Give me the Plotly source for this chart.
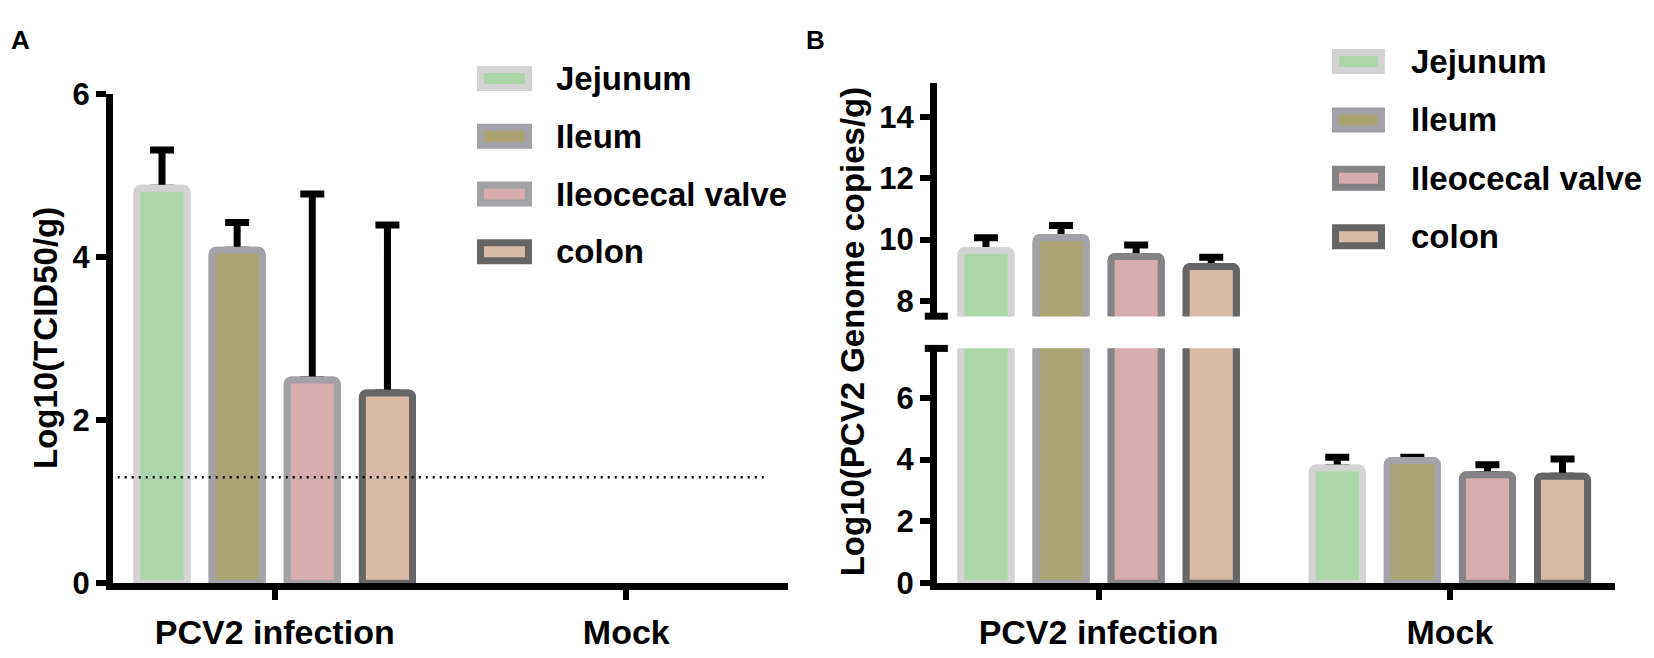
import plotly.graph_objects as go

# ---- data ----
categories = ["PCV2 infection", "Mock"]
tissues = ["Jejunum", "Ileum", "Ileocecal valve", "colon"]

# panel A: Log10(TCID50/g), only the infected group has titres
a_pcv2 = [4.84, 4.08, 2.49, 2.33]
a_pcv2_err = [0.47, 0.34, 2.28, 2.06]
a_mock = [None, None, None, None]
a_mock_err = [0, 0, 0, 0]
lod = 1.3  # detection limit (dotted line)

# panel B: Log10(PCV2 genome copies/g)
b_pcv2 = [9.64, 10.07, 9.45, 9.12]
b_pcv2_err = [0.42, 0.39, 0.37, 0.30]
b_mock = [3.73, 3.97, 3.51, 3.46]
b_mock_err = [0.35, 0.11, 0.32, 0.56]

a_ticks = [0, 2, 4, 6]
b_low_ticks = [0, 2, 4, 6]
b_high_ticks = [8, 10, 12, 14]

fills = ["#acd5a9", "#aba373", "#d5adad", "#d7bba6"]
borders_a = ["#d3d3d3", "#a2a2a8", "#a2a2a7", "#666666"]
borders_b = ["#d3d3d3", "#a2a2a8", "#848486", "#656565"]

W, H = 1654, 658
FONT = "Liberation Sans, Arial, sans-serif"
LW = 7


def px(x):
    return x / W


def py(y):
    return 1 - y / H


fig = go.Figure()


def add_bars(xa, ya, vals, errs, borders):
    # first pass carries the error bar, second pass hides its lower cap
    for i, name in enumerate(tissues):
        for with_err in (True, False):
            fig.add_trace(go.Bar(
                x=categories, y=vals[i], name=name,
                xaxis=xa, yaxis=ya, offsetgroup=str(i), showlegend=False,
                marker=dict(color=fills[i], cornerradius=4,
                            line=dict(color=borders[i], width=LW)),
                error_y=dict(type="data", symmetric=False, array=errs[i],
                             arrayminus=[0] * len(categories),
                             color="black", thickness=7, width=12,
                             visible=with_err),
                hoverinfo="skip",
            ))


a_vals = [[a_pcv2[i], a_mock[i]] for i in range(4)]
a_errs = [[a_pcv2_err[i], a_mock_err[i]] for i in range(4)]
b_vals = [[b_pcv2[i], b_mock[i]] for i in range(4)]
b_errs = [[b_pcv2_err[i], b_mock_err[i]] for i in range(4)]

add_bars("x", "y", a_vals, a_errs, borders_a)
add_bars("x2", "y2", b_vals, b_errs, borders_b)
add_bars("x2", "y3", b_vals, b_errs, borders_b)

axis_common = dict(showline=True, linecolor="black", linewidth=LW,
                   ticks="outside", ticklen=10, tickwidth=6, tickcolor="black",
                   showgrid=False, zeroline=False, fixedrange=True)
xfont = dict(family=FONT, size=34, color="black", weight="bold")
yfont = dict(family=FONT, size=31, color="black", weight="bold")

fig.update_layout(
    width=W, height=H,
    margin=dict(l=0, r=0, t=0, b=0),
    paper_bgcolor="white", plot_bgcolor="white",
    barmode="group", bargap=0.145, bargroupgap=0.333,
    xaxis=dict(domain=[px(113), px(788)], range=[-0.46, 1.46], type="category",
               anchor="y", tickfont=xfont, ticklabelstandoff=3, **axis_common),
    yaxis=dict(domain=[py(598), py(81)], range=[0, 6], tickvals=a_ticks,
               anchor="x", tickfont=yfont, **axis_common),
    xaxis2=dict(domain=[px(937), px(1615)], range=[-0.46, 1.47], type="category",
                anchor="y2", tickfont=xfont, ticklabelstandoff=3, **axis_common),
    yaxis2=dict(domain=[py(598), py(350)], range=[0, 7.6], tickvals=b_low_ticks,
                anchor="x2", tickfont=yfont, **axis_common),
    yaxis3=dict(domain=[py(316), py(70)], range=[7.5, 15.1], tickvals=b_high_ticks,
                anchor="x2", tickfont=yfont, **axis_common),
)

shapes = []
# detection limit
shapes.append(dict(type="line", xref="x domain", yref="y", x0=0.007, x1=0.967,
                   y0=lod, y1=lod, line=dict(color="black", width=2.5, dash="2px,5px")))
# axis break marks
for yref, yv in (("y3 domain", 0), ("y2 domain", 1)):
    shapes.append(dict(type="line", xref="x2 domain", yref=yref, x0=-0.018, x1=0.016,
                       y0=yv, y1=yv, line=dict(color="black", width=LW)))

annotations = []
title_font = dict(family=FONT, size=33, color="black", weight="bold")
annotations.append(dict(text="Log10(TCID50/g)", x=px(46), y=py(339), xref="paper", yref="paper",
                        xanchor="center", yanchor="middle",
                        textangle=-90, showarrow=False, font=title_font))
annotations.append(dict(text="Log10(PCV2 Genome copies/g)", x=px(852), y=py(332),
                        xref="paper", yref="paper", xanchor="center", yanchor="middle",
                        textangle=-90, showarrow=False, font=title_font))
for letter, lx in (("A", 9), ("B", 804)):
    annotations.append(dict(text=letter, x=px(lx), y=py(24), xref="paper", yref="paper",
                            xanchor="left", yanchor="middle", showarrow=False,
                            font=dict(family=FONT, size=26, color="black", weight="bold")))

# hand-drawn legends (swatch + label)
legends = [dict(x0=477, x1=532, y0=65, step=61, tx=554, borders=borders_a),
           dict(x0=1332, x1=1385, y0=47, step=61.7, tx=1409, borders=borders_b)]
for lg in legends:
    for i, name in enumerate(tissues):
        cy = lg["y0"] + lg["step"] * i
        shapes.append(dict(type="rect", xref="paper", yref="paper",
                           x0=px(lg["x0"] + LW / 2), x1=px(lg["x1"] - LW / 2),
                           y0=py(cy - 13 + LW / 2), y1=py(cy + 13 - LW / 2),
                           fillcolor=fills[i], line=dict(color=lg["borders"][i], width=LW)))
        annotations.append(dict(text=name, x=px(lg["tx"]), y=py(cy), xref="paper", yref="paper",
                                xanchor="left", yanchor="middle", showarrow=False,
                                font=title_font))

fig.update_layout(shapes=shapes, annotations=annotations)

# page body margin would push the fixed-size figure past the window edge
fig.write_html("out.html", config={"displayModeBar": False},
               post_script="document.body.style.margin='0';")
